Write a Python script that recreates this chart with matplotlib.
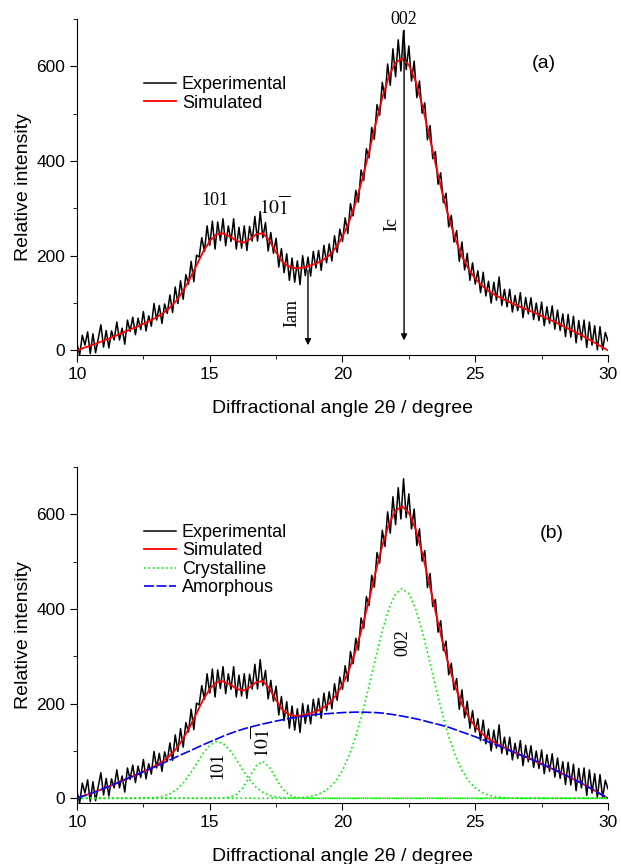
import numpy as np
import matplotlib
matplotlib.use('Agg')
import matplotlib.pyplot as plt

plt.rcParams['font.family'] = 'Liberation Sans'
plt.rcParams['mathtext.fontset'] = 'stix'

# experimental pattern, 2theta 10..30 step 0.1
exp_2theta = np.linspace(10, 30, 201)
exp_counts = [15, -10, 32, 11, 39, -7, 35, -5, 25, 54,
              7, 42, 5, 41, 22, 60, 22, 47, 13, 64,
              40, 70, 33, 68, 44, 82, 41, 73, 51, 99,
              64, 95, 57, 98, 78, 117, 80, 134, 99, 147,
              108, 160, 140, 188, 145, 201, 197, 238, 209, 263,
              222, 273, 214, 271, 232, 278, 221, 263, 230, 278,
              214, 260, 216, 263, 211, 262, 231, 283, 231, 293,
              238, 270, 210, 249, 205, 237, 176, 215, 164, 204,
              148, 195, 144, 189, 139, 200, 158, 197, 157, 209,
              174, 211, 169, 222, 185, 225, 189, 242, 207, 256,
              230, 280, 247, 310, 284, 338, 313, 381, 359, 426,
              407, 471, 446, 519, 497, 566, 532, 605, 560, 637,
              578, 656, 590, 675, 593, 643, 569, 611, 534, 569,
              501, 523, 445, 475, 405, 420, 351, 375, 312, 332,
              261, 285, 229, 253, 188, 229, 170, 205, 148, 185,
              140, 168, 122, 165, 115, 146, 100, 144, 106, 155,
              95, 129, 92, 129, 81, 116, 84, 122, 69, 112,
              77, 111, 65, 100, 63, 102, 52, 92, 57, 94,
              45, 85, 42, 77, 29, 76, 28, 72, 16, 63,
              22, 64, 6, 60, 11, 52, 1, 50, 1, 38,
              20]

# fitted components, step 0.25
fit_2theta = np.linspace(10, 30, 81)
amorphous = [0, 5, 10, 15, 20.5, 26, 32, 38, 44, 50,
             56, 62, 68, 74.5, 81, 87.5, 94, 100, 106.5, 113,
             119, 125, 131, 136.5, 141.5, 146, 150, 153.5, 157, 160,
             163, 166, 169, 171, 173, 175, 177, 178, 179, 180,
             181, 181.5, 182, 182, 181.5, 181, 180, 178, 176, 173.5,
             171, 168, 165, 161, 157.5, 154, 150, 145, 140, 135,
             130, 124.5, 119, 113.5, 108, 102, 96, 90.5, 85, 79,
             72.5, 66, 60, 53, 46, 39, 32, 24, 16, 8,
             0]
peak_101 = [0] * 10 + [0.3, 0.7, 1.9, 4.5, 9.5, 18, 32, 51, 73, 95,
                       112, 120, 116, 102, 82, 59, 39, 23, 12.6, 6.1,
                       2.7, 1.1, 0.4] + [0] * 48
peak_10m1 = [0] * 22 + [0.4, 2.2, 8.1, 22.2, 45.3, 68.8, 78, 65.7, 41.2, 19.2,
                        6.7, 1.7, 0.3] + [0] * 46
peak_002 = [0] * 32 + [0.3, 0.75, 1.6, 3.4, 6.6, 12.3, 21.8, 36.7, 58.8, 90,
                       130.8, 180.7, 237.6, 297.4, 354, 401, 432, 443, 432, 401,
                       354, 297.4, 237.6, 180.7, 130.8, 90, 58.8, 36.7, 21.8, 12.3,
                       6.6, 3.4, 1.6, 0.75, 0.3] + [0] * 14

simulated = np.array(amorphous) + np.array(peak_101) + np.array(peak_10m1) + np.array(peak_002)

green = '#00ee00'
serif = 'Liberation Serif'

fig = plt.figure(figsize=(6.21, 8.64), dpi=100)
ax1 = fig.add_axes([0.124, 0.589, 0.855, 0.389])
ax2 = fig.add_axes([0.124, 0.0706, 0.855, 0.389])

for ax in (ax1, ax2):
    ax.plot(exp_2theta, exp_counts, color='black', lw=1.1, label='Experimental')
    ax.plot(fit_2theta, simulated, color='red', lw=1.3, label='Simulated')

ax2.plot(fit_2theta, peak_101, color=green, lw=1.2, ls=':', label='Crystalline')
ax2.plot(fit_2theta, peak_10m1, color=green, lw=1.2, ls=':')
ax2.plot(fit_2theta, peak_002, color=green, lw=1.2, ls=':')
ax2.plot(fit_2theta, amorphous, color='blue', lw=1.2, dashes=(6, 1.5), label='Amorphous')

for ax in (ax1, ax2):
    ax.set_xlim(10, 30)
    ax.set_ylim(-10, 700)
    ax.spines['top'].set_visible(False)
    ax.spines['right'].set_visible(False)
    ax.set_xticks([10, 15, 20, 25, 30])
    ax.set_xticks([12.5, 17.5, 22.5, 27.5], minor=True)
    ax.set_yticks([0, 200, 400, 600])
    ax.set_yticks([100, 300, 500, 700], minor=True)
    ax.tick_params(which='major', direction='out', length=5, labelsize=12.5)
    ax.tick_params(which='minor', direction='out', length=3)
    ax.set_xlabel('Diffractional angle 2\u03b8 / degree', fontsize=14, labelpad=13)
    ax.set_ylabel('Relative intensity', fontsize=14, labelpad=3)
    ax.legend(loc='upper left', bbox_to_anchor=(0.126, 0.83), frameon=False,
              fontsize=13, handlelength=1.8, handletextpad=0.3,
              labelspacing=0.08, borderpad=0, borderaxespad=0)

# panel (a) annotations
ax1.text(27.6, 606, '(a)', fontsize=14, ha='center', va='center')
ax1.text(15.2, 317, '101', fontfamily=serif, fontsize=13, ha='center', va='center')
ax1.text(17.44, 303, r'$\mathrm{10\overline{1}}$', fontsize=14, ha='center', va='center')
ax1.text(22.3, 700, '002', fontfamily=serif, fontsize=13, ha='center', va='center',
         clip_on=False)
ax1.annotate('', xy=(18.7, 5), xytext=(18.7, 175),
             arrowprops=dict(arrowstyle='-|>', color='black', lw=1, mutation_scale=9))
ax1.annotate('', xy=(22.32, 15), xytext=(22.32, 682),
             arrowprops=dict(arrowstyle='-|>', color='black', lw=1, mutation_scale=9))
ax1.text(18.08, 79, 'Iam', fontfamily=serif, fontsize=13, rotation=90,
         ha='center', va='center')
ax1.text(21.85, 268, 'Ic', fontfamily=serif, fontsize=13, rotation=90,
         ha='center', va='center')

# panel (b) annotations
ax2.text(27.9, 560, '(b)', fontsize=14, ha='center', va='center')
ax2.text(15.32, 69, '101', fontfamily=serif, fontsize=13, rotation=90,
         ha='center', va='center')
ax2.text(16.95, 118, r'$\mathrm{10\overline{1}}$', fontsize=14, rotation=90,
         ha='center', va='center')
ax2.text(22.27, 328, '002', fontfamily=serif, fontsize=13, rotation=90,
         ha='center', va='center')

fig.savefig('out.png', dpi=100)
